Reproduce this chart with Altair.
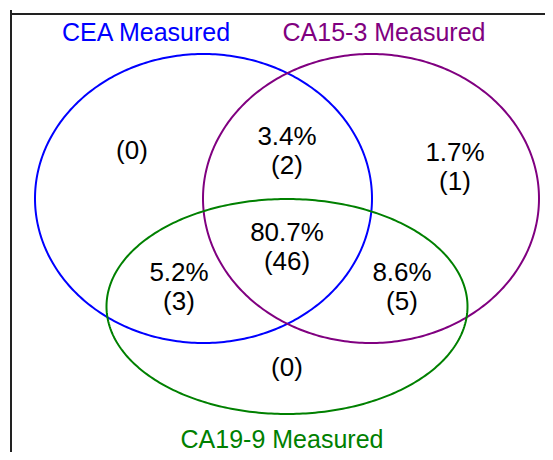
import altair as alt
import numpy as np
import pandas as pd

# ---- data ----
set_names = ["CEA Measured", "CA15-3 Measured", "CA19-9 Measured"]
set_colors = ["#0000ff", "#800080", "#008000"]

region_keys = ["CEA", "CEA&CA15-3", "CA15-3", "All", "CEA&CA19-9", "CA15-3&CA19-9", "CA19-9"]
region_pct = ["", "3.4%", "1.7%", "80.7%", "5.2%", "8.6%", ""]
region_count = [0, 2, 1, 46, 3, 5, 0]

# ---- layout (page pixel coordinates) ----
ell_cx = [203.5, 371.0, 287.0]
ell_cy = [198.5, 198.5, 306.5]
ell_rx = [168.5, 168.0, 180.5]
ell_ry = [144.5, 144.5, 107.5]
title_x = [146, 384, 282]
title_y = [41, 41, 448]
region_x = [132, 287, 455, 287, 179, 402, 287]
region_y = [None, 145, 161, 241, 281, 281, None]   # baseline of percentage line
count_only_y = {0: 159, 6: 376}
LINE_GAP = 29

W, H = 537, 444
xs = alt.Scale(domain=[8, 8 + W], nice=False, zero=False)
ys = alt.Scale(domain=[8, 8 + H], nice=False, zero=False, reverse=True)

# ellipses
rows = []
t = np.linspace(0, 2 * np.pi, 361)
for i, name in enumerate(set_names):
    for k, tt in enumerate(t):
        rows.append({"set": name, "k": k,
                     "x": ell_cx[i] + ell_rx[i] * np.cos(tt),
                     "y": ell_cy[i] + ell_ry[i] * np.sin(tt)})
ell_df = pd.DataFrame(rows)

color_scale = alt.Scale(domain=set_names, range=set_colors)

ellipses = alt.Chart(ell_df).mark_line(strokeWidth=2).encode(
    x=alt.X("x:Q", scale=xs, axis=None),
    y=alt.Y("y:Q", scale=ys, axis=None),
    detail="set:N",
    order="k:Q",
    color=alt.Color("set:N", scale=color_scale, legend=None),
)

title_df = pd.DataFrame({"set": set_names, "x": title_x, "y": title_y})
titles = alt.Chart(title_df).mark_text(
    font="Liberation Sans", fontSize=25, baseline="alphabetic", align="center"
).encode(
    x=alt.X("x:Q", scale=xs, axis=None),
    y=alt.Y("y:Q", scale=ys, axis=None),
    text="set:N",
    color=alt.Color("set:N", scale=color_scale, legend=None),
)

lab_rows = []
for i, key in enumerate(region_keys):
    if region_pct[i]:
        lab_rows.append({"x": region_x[i], "y": region_y[i], "t": region_pct[i]})
        lab_rows.append({"x": region_x[i], "y": region_y[i] + LINE_GAP, "t": f"({region_count[i]})"})
    else:
        lab_rows.append({"x": region_x[i], "y": count_only_y[i], "t": f"({region_count[i]})"})
lab_df = pd.DataFrame(lab_rows)

labels = alt.Chart(lab_df).mark_text(
    font="Liberation Sans", fontSize=26, baseline="alphabetic", align="center", color="black"
).encode(
    x=alt.X("x:Q", scale=xs, axis=None),
    y=alt.Y("y:Q", scale=ys, axis=None),
    text="t:N",
)

# frame: left and top edges (the others fall outside the picture)
frame_left = alt.Chart(pd.DataFrame({"a": [0]})).mark_rule(color="#222222", strokeWidth=2).encode(
    x=alt.value(3), y=alt.value(2), y2=alt.value(H)
)
frame_top = alt.Chart(pd.DataFrame({"a": [0]})).mark_rule(color="#222222", strokeWidth=2).encode(
    x=alt.value(2), x2=alt.value(W), y=alt.value(6)
)

chart = alt.layer(frame_left, frame_top, ellipses, titles, labels).properties(
    width=W, height=H, autosize=alt.AutoSizeParams(type="none"), padding=0
).configure_view(stroke=None)

chart.save("out.html", embed_options={"renderer": "svg", "actions": False})
